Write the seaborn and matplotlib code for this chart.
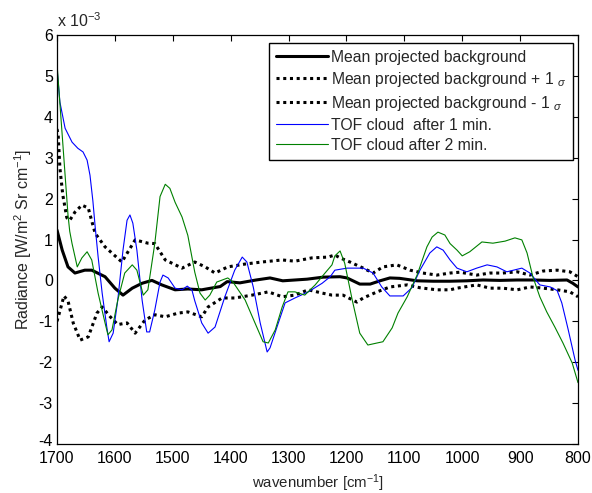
import numpy as np
import pandas as pd
import matplotlib
matplotlib.use("Agg")
import matplotlib.pyplot as plt
import matplotlib.transforms as mtransforms
import seaborn as sns

# ---- data (radiance in units of 1e-3 W/m^2 Sr cm^-1) ----
mean_wn = [1700, 1691, 1681, 1669, 1652, 1640, 1617, 1600, 1586, 1570, 1553, 1536, 1519, 1496,
           1474, 1450, 1418, 1406, 1384, 1356, 1332, 1310, 1268, 1240, 1211, 1199, 1177, 1159,
           1142, 1125, 1108, 1078, 1050, 1021, 992, 964, 935, 905, 878, 848, 819, 809, 800]
mean_val = [1.23, 0.74, 0.33, 0.18, 0.25, 0.25, 0.09, -0.19, -0.36, -0.19, -0.07, 0.0, -0.11, -0.23,
            -0.21, -0.23, -0.15, -0.03, -0.06, 0.01, 0.06, -0.01, 0.03, 0.08, 0.09, 0.06, -0.09, -0.09,
            -0.01, 0.06, 0.05, -0.01, -0.02, -0.02, -0.01, 0.01, 0.0, 0.01, 0.01, 0.0, 0.01, -0.07, -0.16]

upper_wn = [1700, 1698, 1695, 1690, 1683, 1678, 1669, 1657, 1646, 1638, 1634, 1617, 1588, 1565,
            1543, 1531, 1513, 1484, 1462, 1444, 1427, 1405, 1375, 1346, 1311, 1289, 1260, 1232,
            1220, 1211, 1194, 1171, 1154, 1137, 1113, 1090, 1068, 1044, 1021, 1004, 975, 952,
            930, 905, 883, 860, 836, 814, 800]
upper_val = [3.7, 3.56, 2.75, 2.09, 1.53, 1.47, 1.67, 1.84, 1.77, 1.35, 1.15, 0.82, 0.45, 0.99,
             0.91, 0.9, 0.5, 0.3, 0.45, 0.33, 0.18, 0.33, 0.4, 0.45, 0.5, 0.47, 0.55, 0.57,
             0.62, 0.55, 0.45, 0.3, 0.18, 0.33, 0.38, 0.25, 0.18, 0.13, 0.18, 0.2, 0.13, 0.18,
             0.18, 0.21, 0.13, 0.23, 0.25, 0.21, 0.09]

lower_wn = [1700, 1695, 1688, 1681, 1672, 1660, 1646, 1631, 1622, 1608, 1595, 1579, 1565, 1548,
            1531, 1513, 1491, 1474, 1450, 1439, 1415, 1393, 1363, 1335, 1311, 1289, 1266, 1242,
            1225, 1206, 1182, 1171, 1147, 1125, 1095, 1073, 1044, 1021, 1009, 975, 952, 930,
            905, 883, 860, 836, 814, 800]
lower_val = [-1.0, -0.75, -0.38, -0.5, -1.04, -1.46, -1.38, -0.8, -0.65, -0.89, -1.08, -1.04, -1.29, -0.97,
             -0.84, -0.89, -0.8, -0.77, -0.89, -0.65, -0.43, -0.43, -0.36, -0.28, -0.4, -0.36, -0.23, -0.31,
             -0.36, -0.36, -0.53, -0.43, -0.28, -0.16, -0.11, -0.18, -0.23, -0.23, -0.19, -0.11, -0.19, -0.19,
             -0.23, -0.16, -0.19, -0.23, -0.28, -0.4]

tof1_wn = [1700, 1695, 1686, 1674, 1664, 1655, 1648, 1643, 1638, 1634, 1629, 1622, 1614, 1610,
           1603, 1595, 1586, 1579, 1574, 1569, 1562, 1553, 1545, 1540, 1531, 1522, 1517, 1508,
           1496, 1484, 1475, 1467, 1462, 1450, 1439, 1427, 1410, 1393, 1380, 1372, 1361, 1349,
           1337, 1332, 1320, 1306, 1289, 1266, 1242, 1228, 1220, 1199, 1171, 1154, 1139, 1125,
           1102, 1087, 1073, 1056, 1044, 1033, 1021, 1009, 992, 975, 957, 940, 923, 897, 883,
           866, 848, 836, 828, 817, 805, 800]
tof1_val = [5.2, 4.36, 3.72, 3.38, 3.23, 3.14, 2.94, 2.57, 1.94, 1.3, 0.58, -0.31, -1.14, -1.5,
            -1.29, -0.48, 0.74, 1.47, 1.6, 1.4, 0.74, -0.48, -1.26, -1.26, -0.72, -0.04, 0.13, 0.06,
            -0.19, -0.23, -0.14, -0.23, -0.5, -1.04, -1.29, -1.14, -0.4, 0.25, 0.57, 0.45, -0.16, -1.04,
            -1.75, -1.65, -1.14, -0.55, -0.43, -0.28, -0.07, 0.09, 0.25, 0.3, 0.3, 0.18, -0.16, -0.38,
            -0.38, -0.18, 0.25, 0.67, 0.82, 0.74, 0.5, 0.3, 0.21, 0.3, 0.38, 0.33, 0.21, 0.3, 0.18,
            -0.11, -0.16, -0.25, -0.55, -1.2, -1.95, -2.2]

tof2_wn = [1700, 1691, 1686, 1681, 1678, 1674, 1665, 1657, 1648, 1640, 1629, 1617, 1612, 1605,
           1595, 1583, 1570, 1562, 1551, 1543, 1531, 1522, 1513, 1505, 1496, 1484, 1474, 1462,
           1453, 1444, 1436, 1424, 1405, 1396, 1375, 1358, 1344, 1335, 1323, 1311, 1301, 1289,
           1272, 1254, 1237, 1225, 1220, 1211, 1203, 1190, 1177, 1163, 1147, 1137, 1121, 1111,
           1095, 1078, 1061, 1052, 1042, 1030, 1021, 1009, 1000, 987, 966, 947, 926, 909, 897,
           888, 878, 866, 854, 840, 826, 810, 800]
tof2_val = [5.3, 3.55, 2.57, 1.6, 1.2, 0.9, 0.33, 0.55, 0.7, 0.5, -0.31, -1.04, -1.33, -1.21,
            -0.48, 0.18, 0.38, 0.25, -0.36, -0.23, 0.91, 2.05, 2.35, 2.25, 1.91, 1.55, 1.1, 0.2,
            -0.31, -0.48, -0.36, -0.04, 0.06, -0.04, -0.48, -1.04, -1.5, -1.53, -1.21, -0.65, -0.28, -0.28,
            -0.36, -0.11, 0.18, 0.38, 0.6, 0.72, 0.42, -0.48, -1.29, -1.58, -1.53, -1.5, -1.16, -0.8,
            -0.4, 0.13, 0.82, 1.06, 1.18, 1.11, 0.9, 0.74, 0.6, 0.7, 0.94, 0.91, 0.96, 1.04, 0.99,
            0.67, 0.09, -0.4, -0.77, -1.14, -1.53, -2.02, -2.5]

labels = ["Mean projected background",
          r"Mean projected background + 1 $_{\sigma}$",
          r"Mean projected background - 1 $_{\sigma}$",
          "TOF cloud  after 1 min.",
          "TOF cloud after 2 min."]
xticks = [1700, 1600, 1500, 1400, 1300, 1200, 1100, 1000, 900, 800]
yticks = [-4, -3, -2, -1, 0, 1, 2, 3, 4, 5, 6]

# ---- style ----
sns.set_style("white")
plt.rcParams['font.family'] = ['Liberation Sans', 'DejaVu Sans']
plt.rcParams['mathtext.fontset'] = 'custom'
plt.rcParams['mathtext.rm'] = 'Liberation Sans'
plt.rcParams['mathtext.it'] = 'Liberation Sans:italic'

fig = plt.figure(figsize=(5.92, 4.93), dpi=100)
ax = fig.add_axes([57/592, 1 - 444/493, (578-57)/592, (444-35)/493])

series = [
    (mean_wn, mean_val, dict(color='black', linewidth=2.2, linestyle='-')),
    (upper_wn, upper_val, dict(color='black', linewidth=2.2, linestyle=(0, (1, 1.2)))),
    (lower_wn, lower_val, dict(color='black', linewidth=2.2, linestyle=(0, (1, 1.2)))),
    (tof1_wn, tof1_val, dict(color='#0000ff', linewidth=0.8, linestyle='-')),
    (tof2_wn, tof2_val, dict(color='#008000', linewidth=0.8, linestyle='-')),
]
for (wn, val, kw), lab in zip(series, labels):
    df = pd.DataFrame({'wn': wn, 'val': val})
    sns.lineplot(data=df, x='wn', y='val', ax=ax, label=lab, sort=False, **kw)

ax.set_xlim(1700, 800)
ax.set_ylim(-4, 6)
ax.set_xticks(xticks)
ax.set_yticks(yticks)
ax.set_xticklabels([str(t) for t in xticks])
ax.set_yticklabels([str(t) for t in yticks])
ax.tick_params(direction='in', length=4, width=0.8, top=True, right=True,
               labelsize=11.5, colors='black')
ax.tick_params(axis='x', pad=5)
ax.tick_params(axis='y', pad=3)
for s in ax.spines.values():
    s.set_visible(True)
    s.set_color('black')
    s.set_linewidth(0.9)

# lift the lowest y tick label slightly, as in the reference
lbl = ax.get_yticklabels()[0]
lbl.set_transform(lbl.get_transform() + mtransforms.ScaledTranslation(0, 4/100, fig.dpi_scale_trans))

ax.set_xlabel(r"wavenumber [cm$^{-1}$]", fontsize=10.8, labelpad=5)
ax.set_ylabel(r"Radiance [W/m$^2$ Sr cm$^{-1}$]", fontsize=11.5, labelpad=3)
ax.text(0.0, 1.012, r"x 10$^{-3}$", transform=ax.transAxes, fontsize=11.5,
        ha='left', va='bottom')

leg = ax.legend(loc='upper right', bbox_to_anchor=(0.991, 0.981), fontsize=11.3,
                frameon=True, fancybox=False, edgecolor='black', framealpha=1,
                handlelength=3.3, handletextpad=0.2, borderpad=0.45, labelspacing=0.32,
                borderaxespad=0)
leg.get_frame().set_linewidth(1.0)

fig.savefig("out.png", dpi=100)
